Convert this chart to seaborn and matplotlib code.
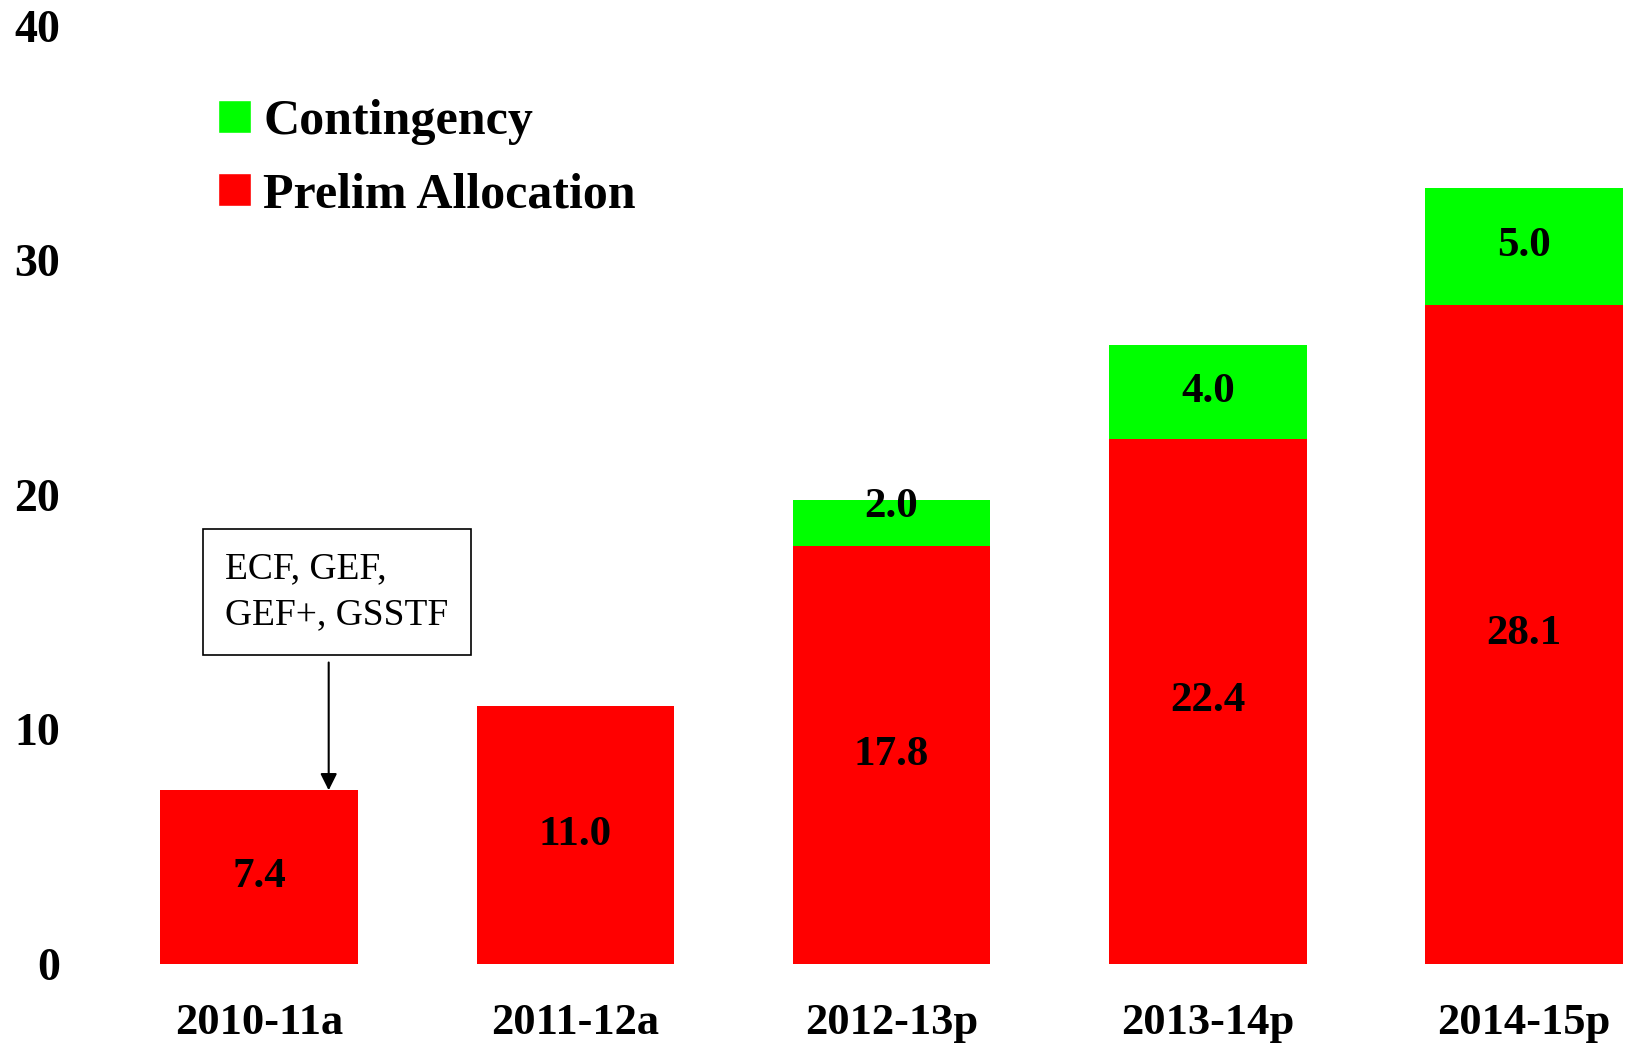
import matplotlib
matplotlib.use('Agg')
import matplotlib.pyplot as plt
from matplotlib.patches import Patch
import seaborn as sns
import pandas as pd

# data
years = ["2010-11a", "2011-12a", "2012-13p", "2013-14p", "2014-15p"]
prelim = [7.4, 11.0, 17.8, 22.4, 28.1]
contingency = [0.0, 0.0, 2.0, 4.0, 5.0]
y_ticks = [0, 10, 20, 30, 40]
note_text = "ECF, GEF,\nGEF+, GSSTF"

RED = '#FF0000'
GREEN = '#00FF00'

sns.set_style('white')
plt.rcParams['font.family'] = ['Liberation Serif', 'DejaVu Serif']
plt.rcParams['text.color'] = 'black'
plt.rcParams['xtick.color'] = 'black'
plt.rcParams['ytick.color'] = 'black'

df = pd.DataFrame({'year': years, 'prelim': prelim, 'contingency': contingency})
df['total'] = df['prelim'] + df['contingency']

fig = plt.figure(figsize=(16.25, 10.44), dpi=100)
ax = fig.add_axes([70 / 1625, 80.2 / 1044, 1 - 70 / 1625, (963.8 - 25.9) / 1044])

# stacked bars: total in green underneath, prelim in red on top
sns.barplot(data=df, x='year', y='total', color=GREEN, saturation=1,
            width=0.625, linewidth=0, ax=ax)
sns.barplot(data=df, x='year', y='prelim', color=RED, saturation=1,
            width=0.625, linewidth=0, ax=ax)

# value labels
for i, (p, c) in enumerate(zip(prelim, contingency)):
    ax.text(i, p / 2, f'{p:.1f}', ha='center', va='center',
            fontsize=31, fontweight='bold', color='black')
    if c > 0:
        # thin segment: label sits nearer the top of the bar
        y = p + c / 2 if c >= 3 else p + c * 0.85
        ax.text(i, y, f'{c:.1f}', ha='center', va='center',
                fontsize=31, fontweight='bold', color='black')

# annotation box + arrow for first bar
ax.text(0.246, 15.87, note_text, ha='center', va='center', fontsize=27,
        linespacing=1.45, multialignment='left', color='black',
        bbox=dict(boxstyle='square,pad=0.6', facecolor='white',
                  edgecolor='black', linewidth=1.2))
ax.annotate('', xy=(0.22, prelim[0]), xytext=(0.22, 12.85),
            arrowprops=dict(arrowstyle='-|>', color='black', lw=1.5,
                            mutation_scale=25, shrinkA=0, shrinkB=0))

ax.set_xlim(-0.598, 4.319)
ax.set_ylim(0, 40)
ax.set_yticks(y_ticks)
ax.set_xlabel('')
ax.set_ylabel('')
ax.tick_params(axis='x', length=0, pad=28, labelsize=32)
ax.tick_params(axis='y', length=0, pad=7, labelsize=33)
for lbl in ax.get_xticklabels() + ax.get_yticklabels():
    lbl.set_fontweight('bold')
sns.despine(ax=ax, left=True, bottom=True)

handles = [Patch(facecolor=GREEN, label='Contingency'),
           Patch(facecolor=RED, label='Prelim Allocation')]
fig.legend(handles=handles, loc='upper left',
           bbox_to_anchor=(218 / 1625, 1 - 99 / 1044),
           frameon=False, borderpad=0, borderaxespad=0,
           handlelength=0.66, handleheight=0.66, handletextpad=0.24,
           labelspacing=0.54, prop={'size': 36, 'weight': 'bold'})

fig.savefig('out.png', dpi=100, facecolor='white')
